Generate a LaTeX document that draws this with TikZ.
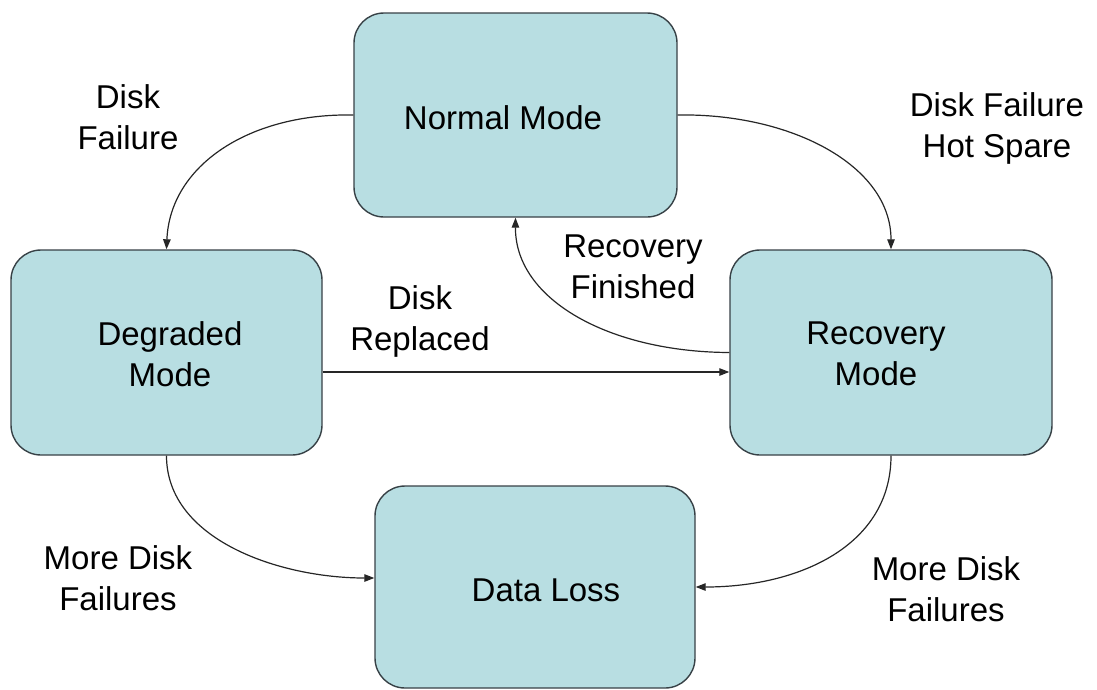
\documentclass[tikz,border=0pt]{standalone}
\usepackage{fontspec}
\setmainfont{Liberation Sans}
\usetikzlibrary{arrows.meta,calc}
\definecolor{boxfill}{RGB}{184,222,226}
\definecolor{boxline}{RGB}{55,65,70}
\tikzset{
  statebox/.style={draw=boxline, fill=boxfill, line width=1.4pt, rounded corners=30pt, inner sep=0pt},
  lbl/.style={align=center, font=\fontsize{33}{41}\selectfont, inner sep=0pt},
  conn/.style={draw=black!85, line width=1.2pt, -{Triangle[length=10pt,width=7.5pt]}}
}
\begin{document}
\begin{tikzpicture}[x=1pt,y=-1pt]
\useasboundingbox (0,0) rectangle (1097,689);
% boxes
\node[statebox, minimum width=323pt, minimum height=204pt] (normal) at (515.5,115) {};
\node[statebox, minimum width=311pt, minimum height=205pt] (degraded) at (166.5,352.5) {};
\node[statebox, minimum width=322pt, minimum height=205pt] (recovery) at (891,352.5) {};
\node[statebox, minimum width=320pt, minimum height=202pt] (loss) at (535,587) {};
% box texts
\node[lbl] (normalt) at (503,118) {Normal Mode};
\node[lbl] (degradedt) at (170,354) {Degraded\\Mode};
\node[lbl] (recoveryt) at (876,354) {Recovery\\Mode};
\node[lbl] (losst) at (546,590) {Data Loss};
% edge labels
\node[lbl] (l1) at (128,117) {Disk\\Failure};
\node[lbl] (l2) at (997,128) {Disk Failure\\Hot Spare};
\node[lbl] (l3) at (633,267) {Recovery\\Finished};
\node[lbl] (l4) at (420,321) {Disk\\Replaced};
\node[lbl] (l5) at (118,578) {More Disk\\Failures};
\node[lbl] (l6) at (946,589) {More Disk\\Failures};
% connectors
\draw[conn] (normal.west) .. controls (250,113) and (170,165) .. (degraded.north);
\draw[conn] (normal.east) .. controls (790,113) and (891,165) .. (recovery.north);
\draw[conn] (recovery.west) .. controls (610,352) and (515,300) .. (normal.south);
\coordinate (dr) at ($(degraded.east)+(0,19.5)$);
\coordinate (rl) at ($(recovery.west)+(0,19.5)$);
\draw[conn] (dr) -- (rl);
\coordinate (ll) at ($(loss.west)+(0,-9)$);
\draw[conn] (degraded.south) .. controls (166.5,540) and (280,578) .. (ll);
\draw[conn] (recovery.south) .. controls (891,545) and (800,587) .. (loss.east);
\end{tikzpicture}
\end{document}
